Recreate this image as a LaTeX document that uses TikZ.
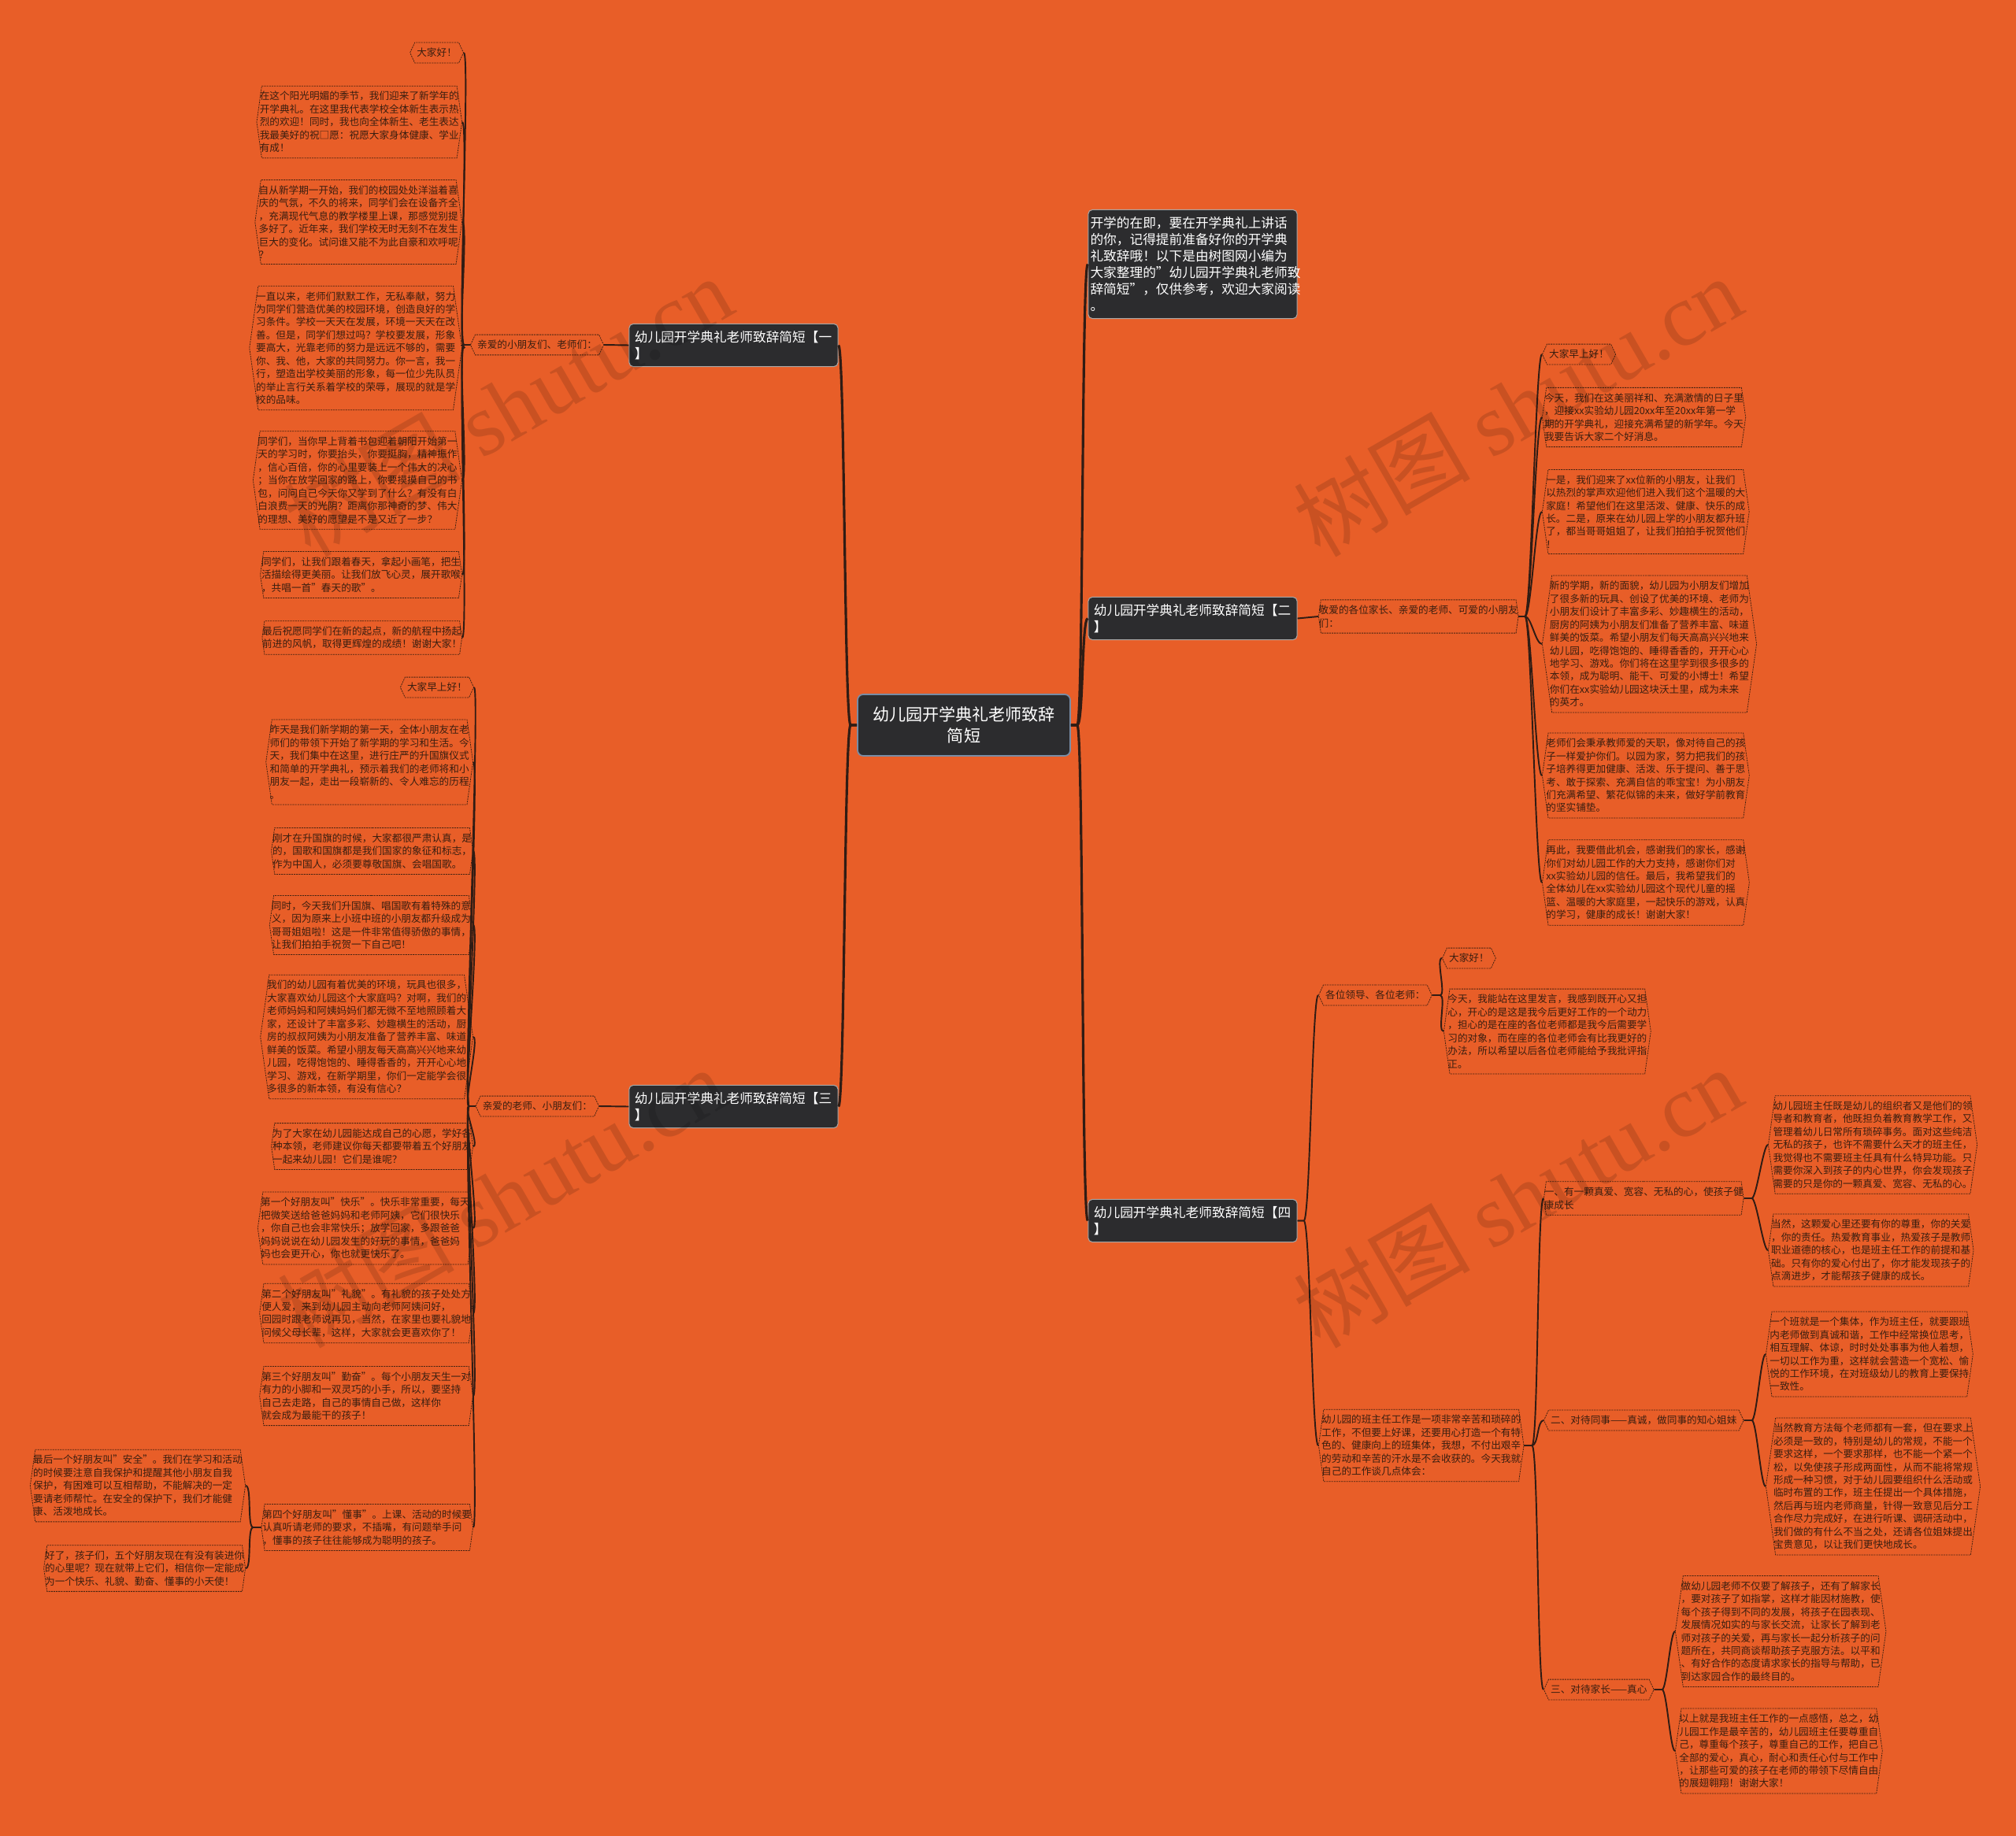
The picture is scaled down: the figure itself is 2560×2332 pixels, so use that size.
\documentclass[tikz,border=0pt]{standalone}
\usepackage{fontspec}
\setmainfont{Noto Sans CJK SC}
\newfontfamily\wmserif{Liberation Serif}
\usetikzlibrary{shapes.symbols}
\definecolor{bgorange}{RGB}{232,94,40}
\definecolor{linkc}{RGB}{48,28,20}
\definecolor{boxdark}{RGB}{44,44,46}
\definecolor{edgec}{RGB}{72,36,18}
\definecolor{leaftext}{RGB}{58,30,16}
\definecolor{rootedge}{RGB}{120,140,165}

\begin{document}
\begin{tikzpicture}[x=0.02cm, y=-0.02cm,
  rootbox/.style={
    fill=boxdark, draw=rootedge, line width=1pt, rounded corners=4pt,
    text=white, font=\fontsize{12}{15}\selectfont, align=center,
    minimum width=5.4cm, minimum height=1.56cm, inner sep=2pt
  },
  topicbox/.style={
    fill=boxdark, draw=gray!70, line width=0.6pt, rounded corners=3pt,
    text=white, font=\fontsize{9.5}{12}\selectfont, align=left,
    text width=143pt, inner xsep=4pt, inner ysep=5pt
  },
  leafbox/.style={
    shape=signal, signal to=east and west, signal pointer angle=164,
    draw=edgec, line width=0.45pt, dash pattern=on 1.2pt off 0.6pt,
    text=leaftext, font=\fontsize{7.2}{9.36}\selectfont, align=left,
    inner xsep=-1.5pt, inner ysep=4pt
  },
  tagbox/.style={leafbox, signal pointer angle=130, inner xsep=1.5pt},
  mainlink/.style={draw=linkc, line width=1.8pt},
  link/.style={draw=linkc, line width=1.1pt},
  wmark/.style={text=black, text opacity=0.13, font=\fontsize{64}{64}\selectfont}
]
  \fill[bgorange] (0,0) rectangle (2560,2332);
  \useasboundingbox (0,0) rectangle (2560,2332);

  % centre and main topics
  \node[rootbox] (root) at (1224,921) {幼儿园开学典礼老师致辞\\简短};
  \node[topicbox] (t1) at (931.5,438.5) {幼儿园开学典礼老师致辞简短【一\\】};
  \node[topicbox] (t3) at (931.5,1405.5) {幼儿园开学典礼老师致辞简短【三\\】};
  \node[topicbox, text width=148pt, inner xsep=1.5pt] (intro) at (1514.5,335.5) {开学的在即，要在开学典礼上讲话\\的你，记得提前准备好你的开学典\\礼致辞哦！以下是由树图网小编为\\大家整理的"幼儿园开学典礼老师致\\辞简短"，仅供参考，欢迎大家阅读\\。};
  \node[topicbox] (t2) at (1514.5,785.5) {幼儿园开学典礼老师致辞简短【二\\】};
  \node[topicbox] (t4) at (1514.5,1550.5) {幼儿园开学典礼老师致辞简短【四\\】};

  % topic 1
  \node[tagbox, anchor=east] (s1) at (767,438) {亲爱的小朋友们、老师们：};
  \node[tagbox, anchor=east] (a1) at (589,67) {大家好！};
  \node[leafbox, anchor=east] (a2) at (587,155) {在这个阳光明媚的季节，我们迎来了新学年的\\开学典礼。在这里我代表学校全体新生表示热\\烈的欢迎！同时，我也向全体新生、老生表达\\我最美好的祝□愿：祝愿大家身体健康、学业\\有成！};
  \node[leafbox, anchor=east] (a3) at (587,282) {自从新学期一开始，我们的校园处处洋溢着喜\\庆的气氛，不久的将来，同学们会在设备齐全\\，充满现代气息的教学楼里上课，那感觉别提\\多好了。近年来，我们学校无时无刻不在发生\\巨大的变化。试问谁又能不为此自豪和欢呼呢\\？};
  \node[leafbox, anchor=east] (a4) at (587,442) {一直以来，老师们默默工作，无私奉献，努力\\为同学们营造优美的校园环境，创造良好的学\\习条件。学校一天天在发展，环境一天天在改\\善。但是，同学们想过吗？学校要发展，形象\\要高大，光靠老师的努力是远远不够的，需要\\你、我、他，大家的共同努力。你一言，我一\\行，塑造出学校美丽的形象，每一位少先队员\\的举止言行关系着学校的荣辱，展现的就是学\\校的品味。};
  \node[leafbox, anchor=east] (a5) at (587,610) {同学们，当你早上背着书包迎着朝阳开始第一\\天的学习时，你要抬头，你要挺胸，精神振作\\，信心百倍，你的心里要装上一个伟大的决心\\；当你在放学回家的路上，你要摸摸自己的书\\包，问问自己今天你又学到了什么？有没有白\\白浪费一天的光阴？距离你那神奇的梦、伟大\\的理想、美好的愿望是不是又近了一步？};
  \node[leafbox, anchor=east] (a6) at (587,730) {同学们，让我们跟着春天，拿起小画笔，把生\\活描绘得更美丽。让我们放飞心灵，展开歌喉\\，共唱一首"春天的歌"。};
  \node[leafbox, anchor=east] (a7) at (587,810) {最后祝愿同学们在新的起点，新的航程中扬起\\前进的风帆，取得更辉煌的成绩！谢谢大家！};

  % topic 3
  \node[tagbox, anchor=east] (s3) at (761,1405) {亲爱的老师、小朋友们：};
  \node[tagbox, anchor=east] (c1) at (602,873) {大家早上好！};
  \node[leafbox, anchor=east] (c2) at (601,968) {昨天是我们新学期的第一天，全体小朋友在老\\师们的带领下开始了新学期的学习和生活。今\\天，我们集中在这里，进行庄严的升国旗仪式\\和简单的开学典礼，预示着我们的老师将和小\\朋友一起，走出一段崭新的、令人难忘的历程\\。};
  \node[leafbox, anchor=east] (c3) at (601,1081) {刚才在升国旗的时候，大家都很严肃认真，是\\的，国歌和国旗都是我们国家的象征和标志，\\作为中国人，必须要尊敬国旗、会唱国歌。};
  \node[leafbox, anchor=east] (c4) at (601,1175) {同时，今天我们升国旗、唱国歌有着特殊的意\\义，因为原来上小班中班的小朋友都升级成为\\哥哥姐姐啦！这是一件非常值得骄傲的事情，\\让我们拍拍手祝贺一下自己吧！};
  \node[leafbox, anchor=east] (c5) at (601,1317) {我们的幼儿园有着优美的环境，玩具也很多，\\大家喜欢幼儿园这个大家庭吗？对啊，我们的\\老师妈妈和阿姨妈妈们都无微不至地照顾着大\\家，还设计了丰富多彩、妙趣横生的活动，厨\\房的叔叔阿姨为小朋友准备了营养丰富、味道\\鲜美的饭菜。希望小朋友每天高高兴兴地来幼\\儿园，吃得饱饱的、睡得香香的，开开心心地\\学习、游戏，在新学期里，你们一定能学会很\\多很多的新本领，有没有信心？};
  \node[leafbox, anchor=east] (c6) at (601,1456) {为了大家在幼儿园能达成自己的心愿，学好各\\种本领，老师建议你每天都要带着五个好朋友\\一起来幼儿园！它们是谁呢？};
  \node[leafbox, anchor=east] (c7) at (601,1560) {第一个好朋友叫"快乐"。快乐非常重要，每天\\把微笑送给爸爸妈妈和老师阿姨，它们很快乐\\，你自己也会非常快乐；放学回家，多跟爸爸\\妈妈说说在幼儿园发生的好玩的事情，爸爸妈\\妈也会更开心，你也就更快乐了。};
  \node[leafbox, anchor=east] (c8) at (601,1668) {第二个好朋友叫"礼貌"。有礼貌的孩子处处方\\便人爱，来到幼儿园主动向老师阿姨问好，\\回园时跟老师说再见，当然，在家里也要礼貌地\\问候父母长辈，这样，大家就会更喜欢你了！};
  \node[leafbox, anchor=east] (c9) at (601,1773) {第三个好朋友叫"勤奋"。每个小朋友天生一对\\有力的小脚和一双灵巧的小手，所以，要坚持\\自己去走路，自己的事情自己做，这样你\\就会成为最能干的孩子！};
  \node[leafbox, anchor=east] (c10) at (601,1940) {第四个好朋友叫"懂事"。上课、活动的时候要\\认真听请老师的要求，不插嘴，有问题举手问\\，懂事的孩子往往能够成为聪明的孩子。};
  \node[leafbox, anchor=east] (d1) at (312,1887) {最后一个好朋友叫"安全"。我们在学习和活动\\的时候要注意自我保护和提醒其他小朋友自我\\保护，有困难可以互相帮助，不能解决的一定\\要请老师帮忙。在安全的保护下，我们才能健\\康、活泼地成长。};
  \node[leafbox, anchor=east] (d2) at (312,1992) {好了，孩子们，五个好朋友现在有没有装进你\\的心里呢？现在就带上它们，相信你一定能成\\为一个快乐、礼貌、勤奋、懂事的小天使！};

  % topic 2
  \node[leafbox, anchor=west] (s2) at (1674,783) {敬爱的各位家长、亲爱的老师、可爱的小朋友\\们：};
  \node[tagbox, anchor=west] (e1) at (1958,450) {大家早上好！};
  \node[leafbox, anchor=west] (e2) at (1958,530) {今天，我们在这美丽祥和、充满激情的日子里\\，迎接xx实验幼儿园20xx年至20xx年第一学\\期的开学典礼，迎接充满希望的新学年。今天\\我要告诉大家二个好消息。};
  \node[leafbox, anchor=west] (e3) at (1958,650) {一是，我们迎来了xx位新的小朋友，让我们\\以热烈的掌声欢迎他们进入我们这个温暖的大\\家庭！希望他们在这里活泼、健康、快乐的成\\长。二是，原来在幼儿园上学的小朋友都升班\\了，都当哥哥姐姐了，让我们拍拍手祝贺他们\\！};
  \node[leafbox, anchor=west] (e4) at (1958,818) {新的学期，新的面貌，幼儿园为小朋友们增加\\了很多新的玩具、创设了优美的环境、老师为\\小朋友们设计了丰富多彩、妙趣横生的活动，\\厨房的阿姨为小朋友们准备了营养丰富、味道\\鲜美的饭菜。希望小朋友们每天高高兴兴地来\\幼儿园，吃得饱饱的、睡得香香的，开开心心\\地学习、游戏。你们将在这里学到很多很多的\\本领，成为聪明、能干、可爱的小博士！希望\\你们在xx实验幼儿园这块沃土里，成为未来\\的英才。};
  \node[leafbox, anchor=west] (e5) at (1958,985) {老师们会秉承教师爱的天职，像对待自己的孩\\子一样爱护你们。以园为家，努力把我们的孩\\子培养得更加健康、活泼、乐于提问、善于思\\考、敢于探索、充满自信的乖宝宝！为小朋友\\们充满希望、繁花似锦的未来，做好学前教育\\的坚实铺垫。};
  \node[leafbox, anchor=west] (e6) at (1958,1121) {再此，我要借此机会，感谢我们的家长，感谢\\你们对幼儿园工作的大力支持，感谢你们对\\xx实验幼儿园的信任。最后，我希望我们的\\全体幼儿在xx实验幼儿园这个现代儿童的摇\\篮、温暖的大家庭里，一起快乐的游戏，认真\\的学习，健康的成长！谢谢大家！};

  % topic 4
  \node[tagbox, anchor=west] (s4a) at (1674,1264) {各位领导、各位老师：};
  \node[tagbox, anchor=west] (f1) at (1831,1217) {大家好！};
  \node[leafbox, anchor=west] (f2) at (1833,1310) {今天，我能站在这里发言，我感到既开心又担\\心，开心的是这是我今后更好工作的一个动力\\，担心的是在座的各位老师都是我今后需要学\\习的对象，而在座的各位老师会有比我更好的\\办法，所以希望以后各位老师能给予我批评指\\正。};
  \node[leafbox, anchor=west] (s4b) at (1674,1836) {幼儿园的班主任工作是一项非常辛苦和琐碎的\\工作，不但要上好课，还要用心打造一个有特\\色的、健康向上的班集体，我想，不付出艰辛\\的劳动和辛苦的汗水是不会收获的。今天我就\\自己的工作谈几点体会：};
  \node[leafbox, anchor=west] (g1) at (1960,1522) {一、有一颗真爱、宽容、无私的心，使孩子健\\康成长};
  \node[tagbox, anchor=west] (g2) at (1960,1804) {二、对待同事——真诚，做同事的知心姐妹};
  \node[tagbox, anchor=west] (g3) at (1960,2146) {三、对待家长——真心};
  \node[leafbox, anchor=west] (h1) at (2245,1454) {幼儿园班主任既是幼儿的组织者又是他们的领\\导者和教育者，他既担负着教育教学工作，又\\管理着幼儿日常所有琐碎事务。面对这些纯洁\\无私的孩子，也许不需要什么天才的班主任，\\我觉得也不需要班主任具有什么特异功能。只\\需要你深入到孩子的内心世界，你会发现孩子\\需要的只是你的一颗真爱、宽容、无私的心。};
  \node[leafbox, anchor=west] (h2) at (2245,1588) {当然，这颗爱心里还要有你的尊重，你的关爱\\，你的责任。热爱教育事业，热爱孩子是教师\\职业道德的核心，也是班主任工作的前提和基\\础。只有你的爱心付出了，你才能发现孩子的\\点滴进步，才能帮孩子健康的成长。};
  \node[leafbox, anchor=west] (i1) at (2242,1720) {一个班就是一个集体，作为班主任，就要跟班\\内老师做到真诚和谐，工作中经常换位思考，\\相互理解、体谅，时时处处事事为他人着想，\\一切以工作为重，这样就会营造一个宽松、愉\\悦的工作环境，在对班级幼儿的教育上要保持\\一致性。};
  \node[leafbox, anchor=west] (i2) at (2242,1888) {当然教育方法每个老师都有一套，但在要求上\\必须是一致的，特别是幼儿的常规，不能一个\\要求这样，一个要求那样，也不能一个紧一个\\松，以免使孩子形成两面性，从而不能将常规\\形成一种习惯，对于幼儿园要组织什么活动或\\临时布置的工作，班主任提出一个具体措施，\\然后再与班内老师商量，针得一致意见后分工\\合作尽力完成好，在进行听课、调研活动中，\\我们做的有什么不当之处，还请各位姐妹提出\\宝贵意见，以让我们更快地成长。};
  \node[leafbox, anchor=west] (j1) at (2127,2072) {做幼儿园老师不仅要了解孩子，还有了解家长\\，要对孩子了如指掌，这样才能因材施教，使\\每个孩子得到不同的发展，将孩子在园表现、\\发展情况如实的与家长交流，让家长了解到老\\师对孩子的关爱，再与家长一起分析孩子的问\\题所在，共同商谈帮助孩子克服方法。以平和\\、有好合作的态度请求家长的指导与帮助，已\\到达家园合作的最终目的。};
  \node[leafbox, anchor=west] (j2) at (2127,2224) {以上就是我班主任工作的一点感悟，总之，幼\\儿园工作是最辛苦的，幼儿园班主任要尊重自\\己，尊重每个孩子，尊重自己的工作，把自己\\全部的爱心，真心，耐心和责任心付与工作中\\，让那些可爱的孩子在老师的带领下尽情自由\\的展翅翱翔！谢谢大家！};

  % connectors
  \foreach \t in {t1,t3}
    \draw[mainlink] (root.west) -- ++(-8,0) .. controls +(-8,0) and +(8,0) .. (\t.east);
  \foreach \t in {intro,t2,t4}
    \draw[mainlink] (root.east) -- ++(8,0) .. controls +(8,0) and +(-8,0) .. (\t.west);

  \draw[link] (t1.west) -- (s1.east);
  \foreach \n in {a1,a2,a3,a4,a5,a6,a7}
    \draw[link] (s1.west) -- ++(-8,0) .. controls +(-8,0) and +(8,0) .. (\n.east);

  \draw[link] (t3.west) -- (s3.east);
  \foreach \n in {c1,c2,c3,c4,c5,c6,c7,c8,c9,c10}
    \draw[link] (s3.west) -- ++(-8,0) .. controls +(-8,0) and +(8,0) .. (\n.east);
  \foreach \n in {d1,d2}
    \draw[link] (c10.west) -- ++(-10,0) .. controls +(-8,0) and +(8,0) .. (\n.east);

  \draw[link] (t2.east) -- (s2.west);
  \foreach \n in {e1,e2,e3,e4,e5,e6}
    \draw[link] (s2.east) -- ++(8,0) .. controls +(8,0) and +(-8,0) .. (\n.west);

  \foreach \n in {s4a,s4b}
    \draw[link] (t4.east) -- ++(8,0) .. controls +(8,0) and +(-8,0) .. (\n.west);
  \foreach \n in {f1,f2}
    \draw[link] (s4a.east) -- ++(10,0) .. controls +(8,0) and +(-8,0) .. (\n.west);
  \foreach \n in {g1,g2,g3}
    \draw[link] (s4b.east) -- ++(10,0) .. controls +(8,0) and +(-8,0) .. (\n.west);
  \foreach \n in {h1,h2}
    \draw[link] (g1.east) -- ++(10,0) .. controls +(6,0) and +(-6,0) .. (\n.west);
  \foreach \n in {i1,i2}
    \draw[link] (g2.east) -- ++(10,0) .. controls +(6,0) and +(-6,0) .. (\n.west);
  \foreach \n in {j1,j2}
    \draw[link] (g3.east) -- ++(10,0) .. controls +(6,0) and +(-6,0) .. (\n.west);

  % watermarks
  \node[wmark, rotate=30] (wm1) at (645,515) {树图 {\wmserif shutu.cn}};
  \node[wmark, rotate=30] (wm2) at (637,1520) {树图 {\wmserif shutu.cn}};
  \node[wmark, rotate=30] (wm3) at (1927,515) {树图 {\wmserif shutu.cn}};
  \node[wmark, rotate=30] (wm4) at (1927,1520) {树图 {\wmserif shutu.cn}};
\end{tikzpicture}
\end{document}
